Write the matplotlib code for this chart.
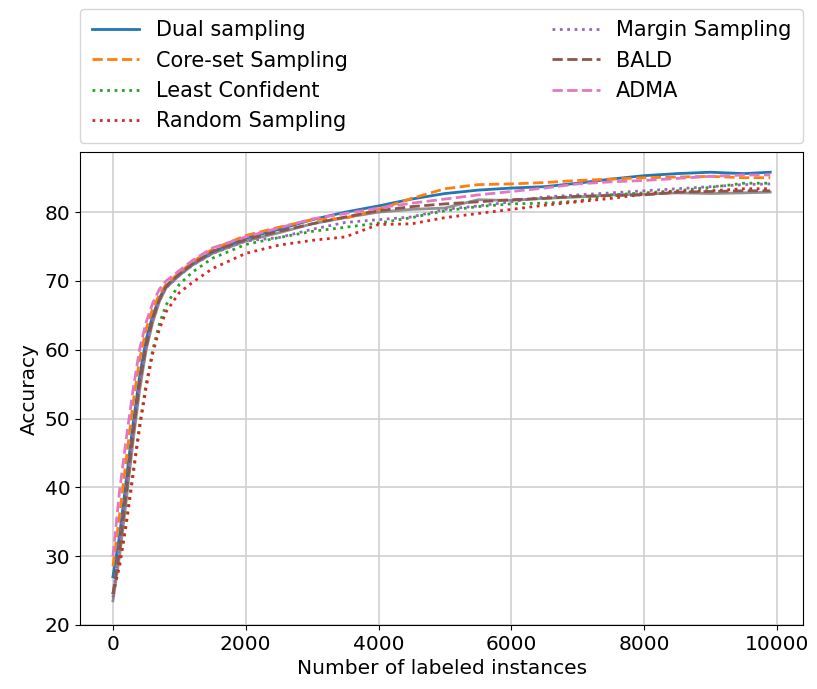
import matplotlib
matplotlib.use("Agg")
import matplotlib.pyplot as plt

x = [0, 100, 200, 300, 400, 500, 600, 700, 800, 1000, 1200, 1500, 2000, 2500,
     3000, 3500, 4000, 4500, 5000, 5500, 6000, 6500, 7000, 7500, 8000, 8500,
     9000, 9500, 9900]

dual = [27, 33, 41, 49, 56, 61.5, 65, 67.5, 69.3, 71, 72.5, 74.2, 76.2, 77.5,
        78.9, 80, 80.9, 81.9, 82.7, 83.2, 83.5, 83.7, 84.2, 84.8, 85.3, 85.6,
        85.8, 85.6, 85.8]
coreset = [28.5, 36, 44, 52, 58.5, 63, 66, 68, 69.5, 71.2, 72.8, 74.6, 76.6, 77.8,
           78.9, 79.1, 80.4, 82.0, 83.4, 84.0, 84.1, 84.3, 84.6, 84.8, 85.0, 85.1,
           85.2, 85.0, 85.0]
least_conf = [24.5, 29, 35, 42, 49, 55, 60, 63.8, 66.5, 69.5, 71.3, 73.3, 75.3, 76.3,
              77.2, 77.8, 78.4, 79.2, 80.2, 80.8, 81.2, 81.3, 81.6, 82.5, 82.8, 83.1,
              83.6, 84.2, 84.2]
random_s = [24.5, 28.5, 34.5, 41.5, 48.5, 54.5, 59.5, 63, 65.5, 68.3, 69.8, 71.8, 74, 75.2,
            75.9, 76.4, 78.2, 78.3, 79.2, 79.8, 80.4, 81.0, 81.5, 82.0, 82.6, 83.0,
            83.1, 83.4, 83.4]
margin = [24, 32, 40, 48, 55, 60.5, 64.5, 67.3, 69, 70.8, 72.3, 74, 75.8, 76.3,
          77.5, 78.5, 78.9, 79.3, 80.4, 80.9, 81.5, 82.2, 82.5, 82.8, 83.1, 83.4,
          83.7, 84.0, 84.1]
bald = [24.5, 31, 39, 47.5, 55, 60.5, 64.5, 67.3, 69.2, 71, 72.5, 74.3, 76, 77.2,
        78.3, 79.3, 80.2, 80.8, 81.2, 81.5, 81.8, 82, 82.3, 82.4, 82.5, 82.9,
        83.0, 83.1, 83.1]
adma = [30, 39.5, 47, 54, 60, 64, 66.8, 68.8, 70, 71.5, 73, 74.8, 76.4, 77.7,
        79, 79.8, 80.6, 81.3, 81.9, 82.5, 83, 83.5, 84.1, 84.4, 84.6, 84.9,
        85.2, 85.4, 85.4]
other = [23.5, 30, 38, 46.5, 54, 60, 64, 67, 69, 70.8, 72.3, 74, 75.8, 77,
         78.3, 79.2, 80.0, 80.4, 80.6, 81.8, 81.7, 82, 82.2, 82.5, 82.6, 82.8,
         82.7, 82.8, 82.9]

fig = plt.figure(figsize=(8.17, 6.89), dpi=100)
ax = fig.add_axes([0.098, 0.093, 0.885, 0.686])

lw = 2
ax.plot(x, other, '-', color='tab:gray', lw=lw, alpha=0.85)
ax.plot(x, dual, '-', color='tab:blue', lw=lw, label='Dual sampling')
ax.plot(x, coreset, '--', color='tab:orange', lw=lw, label='Core-set Sampling')
ax.plot(x, least_conf, ':', color='tab:green', lw=lw, label='Least Confident')
ax.plot(x, random_s, ':', color='tab:red', lw=lw, label='Random Sampling')
ax.plot(x, margin, ':', color='tab:purple', lw=lw, label='Margin Sampling')
ax.plot(x, bald, '--', color='tab:brown', lw=lw, label='BALD')
ax.plot(x, adma, '--', color='tab:pink', lw=lw, label='ADMA')

ax.set_xlim(-495, 10395)
ax.set_ylim(20, 88.7)
ax.set_xticks([0, 2000, 4000, 6000, 8000, 10000])
ax.set_yticks([20, 30, 40, 50, 60, 70, 80])
ax.tick_params(labelsize=14.5)
ax.grid(True, color='#d0d0d0', lw=1.2)
ax.set_xlabel('Number of labeled instances', fontsize=14.5)
ax.set_ylabel('Accuracy', fontsize=14.5)

ax.legend(loc='lower left', bbox_to_anchor=(0, 1.02, 1, 0.2),
          mode='expand', ncol=2, fontsize=15, labelspacing=0.5,
          borderpad=0.55, handlelength=2.3, borderaxespad=0)

fig.savefig('out.png', dpi=100)
